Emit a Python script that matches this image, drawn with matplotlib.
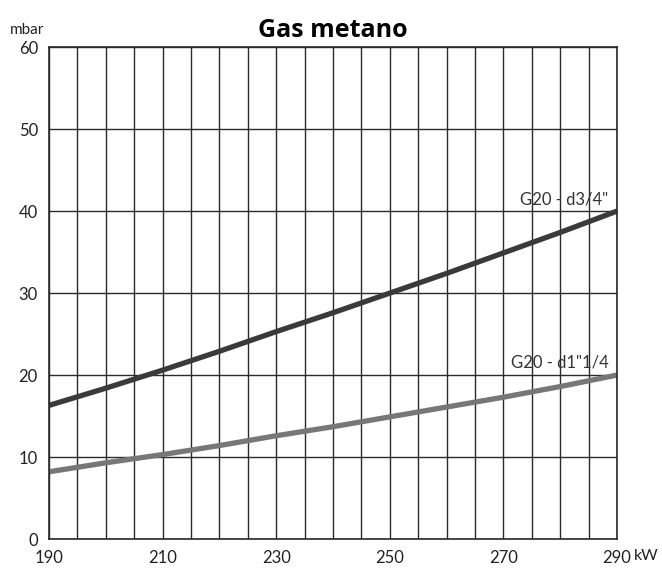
import matplotlib.pyplot as plt
import numpy as np

plt.rcParams['font.family'] = ['Lato', 'DejaVu Sans']

# portata termica (kW) e perdite di carico (mbar)
potenza = [190, 200, 210, 220, 230, 240, 250, 260, 270, 280, 290]
g20_d34 = [16.3, 18.4, 20.6, 22.9, 25.3, 27.6, 30.0, 32.4, 34.9, 37.4, 40.0]
g20_d114 = [8.2, 9.3, 10.3, 11.4, 12.6, 13.7, 14.9, 16.1, 17.3, 18.6, 20.0]
x_ticks = [190, 210, 230, 250, 270, 290]
y_ticks = [0, 10, 20, 30, 40, 50, 60]

fig = plt.figure(figsize=(6.62, 5.68), dpi=100)
ax = fig.add_axes([0.074, 0.051, 0.858, 0.866])

ax.set_xlim(190, 290)
ax.set_ylim(0, 60)
ax.set_xticks(x_ticks)
ax.set_yticks(y_ticks)
ax.set_xticks(np.arange(190, 291, 5), minor=True)
ax.grid(True, which='both', axis='x', color='#2a2a2a', lw=1.0)
ax.grid(True, which='major', axis='y', color='#2a2a2a', lw=1.0)
ax.tick_params(which='both', length=0, labelsize=12, colors='#222222')
ax.tick_params(axis='x', pad=8)
ax.tick_params(axis='y', pad=8)
ax.set_axisbelow(True)
for s in ax.spines.values():
    s.set_color('#2a2a2a')
    s.set_linewidth(1.2)

ax.plot(potenza, g20_d34, color='#3a3a3a', lw=3.8, solid_capstyle='butt', clip_on=False)
ax.plot(potenza, g20_d114, color='#777777', lw=3.8, solid_capstyle='butt', clip_on=False)

ax.text(288.5, 40.5, 'G20 - d3/4"', ha='right', va='bottom', fontsize=12, color='#333333')
ax.text(288.5, 20.5, 'G20 - d1"1/4', ha='right', va='bottom', fontsize=12, color='#333333')

ax.set_title('Gas metano', fontsize=18, fontweight='bold', pad=7,
             family=['Open Sans', 'DejaVu Sans'])
fig.text(0.015, 0.947, 'mbar', fontsize=11, color='#222222', va='center')
fig.text(0.957, 0.021, 'kW', fontsize=11.5, color='#222222', va='center')

fig.savefig('out.png', dpi=100)
